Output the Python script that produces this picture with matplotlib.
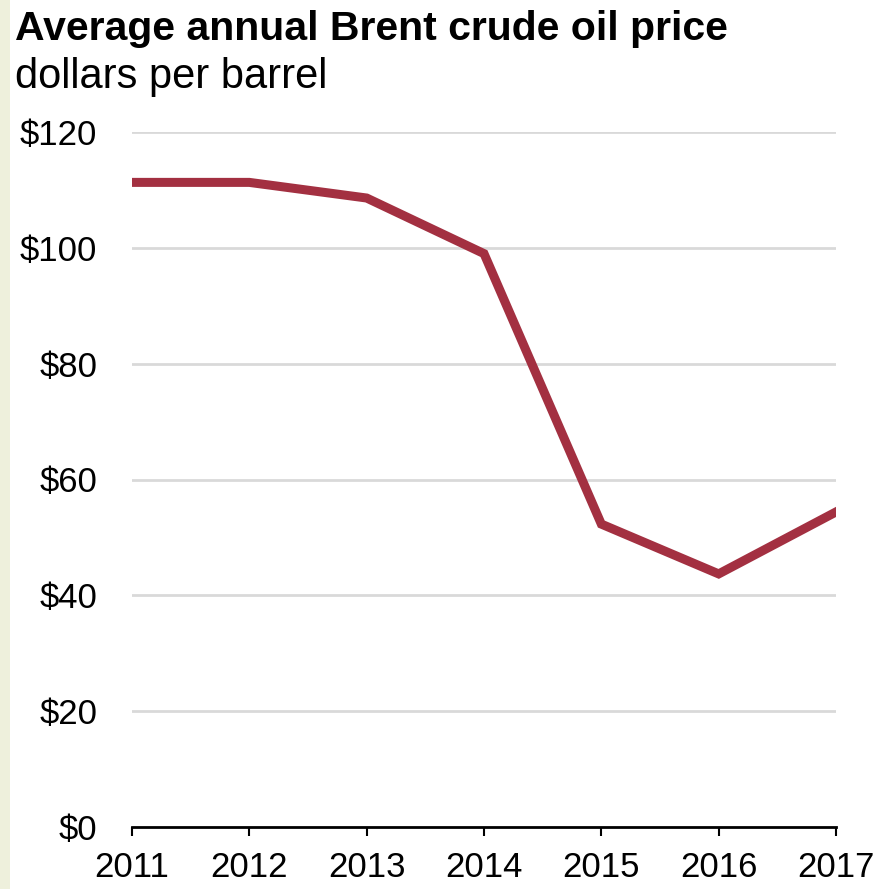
import matplotlib
matplotlib.use("Agg")
import matplotlib.pyplot as plt

# data
years = [2011, 2012, 2013, 2014, 2015, 2016, 2017]
prices = [111.3, 111.3, 108.6, 99.0, 52.3, 43.7, 54.4]
y_ticks = [0, 20, 40, 60, 80, 100, 120]
y_labels = ["$0", "$20", "$40", "$60", "$80", "$100", "$120"]

W, H = 884, 889
plt.rcParams["font.family"] = ["Liberation Sans", "DejaVu Sans"]

fig = plt.figure(figsize=(W / 100, H / 100), dpi=100)
fig.patch.set_facecolor("white")

# greenish strip on the left
fig.patches.append(plt.Rectangle((0, 0), 10 / W, 1, transform=fig.transFigure,
                                 facecolor="#eef0dc", edgecolor="none"))

ax = fig.add_axes([132 / W, 1 - 827 / H, (836 - 132) / W, (827 - 132) / H])
ax.set_xlim(2011, 2017)
ax.set_ylim(0, 120)

for t in y_ticks[1:]:
    ax.axhline(t, color="#d9d9d9", linewidth=2, zorder=1)

ax.plot(years, prices, color="#a33041", linewidth=6.5, zorder=3,
        solid_joinstyle="miter")

for s in ["top", "right", "left"]:
    ax.spines[s].set_visible(False)
ax.spines["bottom"].set_linewidth(2)
ax.spines["bottom"].set_color("black")

ax.set_xticks(years)
ax.set_xticklabels([str(y) for y in years], fontsize=25)
ax.tick_params(axis="x", length=6.5, width=1.5, direction="out", pad=11)
ax.set_yticks(y_ticks)
ax.set_yticklabels(y_labels, fontsize=25)
ax.tick_params(axis="y", length=0, pad=25)
for lab in ax.get_xticklabels():
    lab.set_clip_on(False)

fig.text(15 / W, 1 - 40 / H, "Average annual Brent crude oil price", fontsize=29.5,
         fontweight="bold", va="baseline", ha="left")
fig.text(15 / W, 1 - 88 / H, "dollars per barrel", fontsize=30,
         va="baseline", ha="left")

fig.savefig("out.png", dpi=100)
